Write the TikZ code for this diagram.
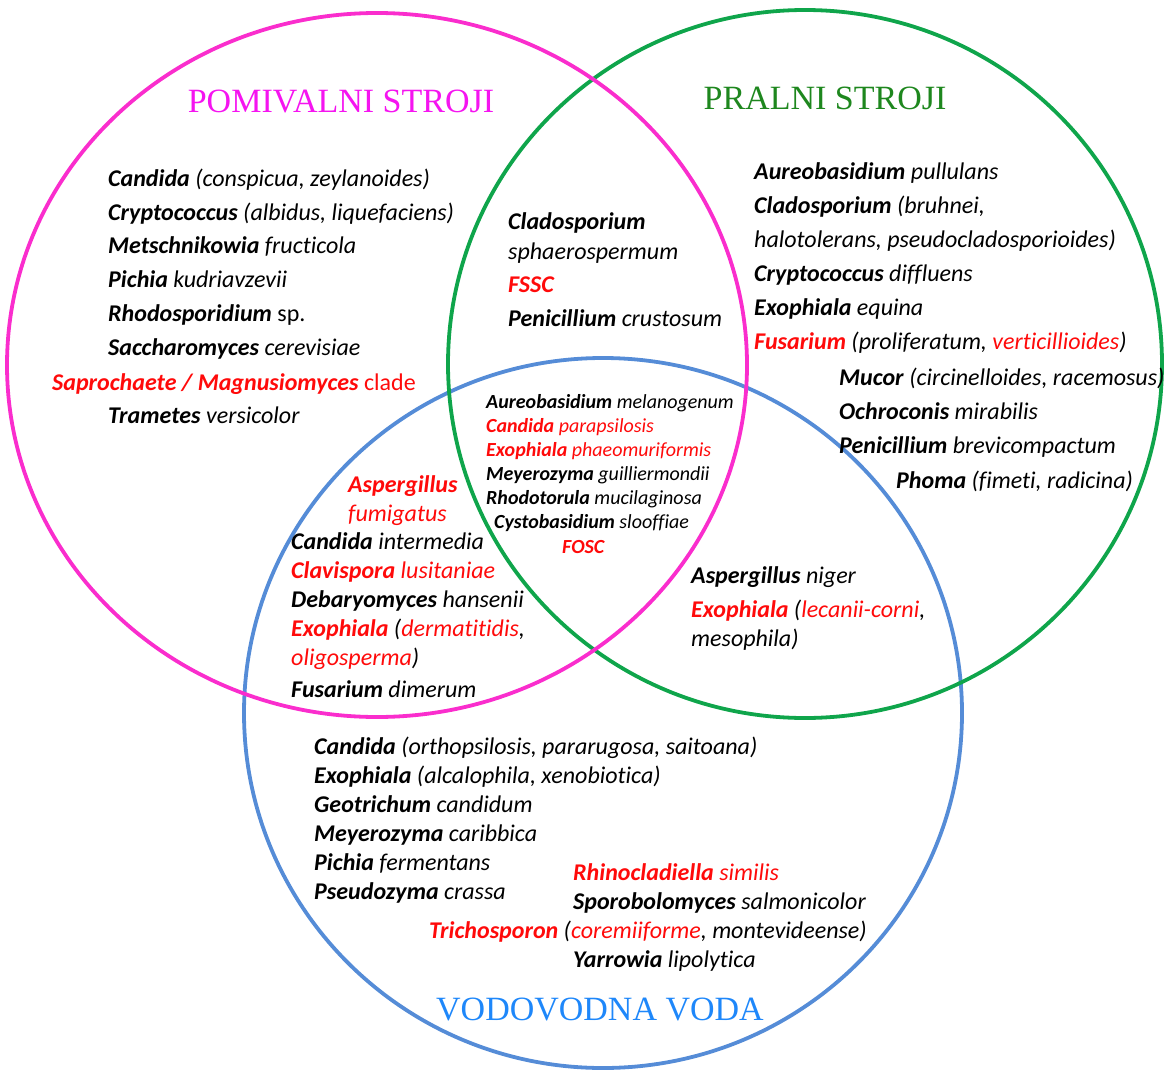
\documentclass[tikz,border=0pt]{standalone}
\usepackage{fontspec}
\setmainfont{Carlito}[Ligatures=NoCommon]
\newfontfamily\titlefont{Liberation Serif}
\usetikzlibrary{positioning}
\definecolor{pomcol}{RGB}{250,45,205}
\definecolor{pomttl}{RGB}{245,20,240}
\definecolor{pralcol}{RGB}{15,165,75}
\definecolor{pralttl}{RGB}{30,135,30}
\definecolor{vodcol}{RGB}{85,140,215}
\definecolor{vodttl}{RGB}{30,135,250}
\definecolor{redsp}{RGB}{255,10,10}
\newcommand{\gen}[1]{\textbf{\textit{#1}}}
\newcommand{\spc}[1]{\textit{#1}}
\newcommand{\rgen}[1]{{\color{redsp}\textbf{\textit{#1}}}}
\newcommand{\rspc}[1]{{\color{redsp}\textit{#1}}}
\tikzset{
  ring/.style={line width=3.8pt},
  lbl/.style={anchor=base west, inner sep=0pt, font=\fontsize{24}{28}\selectfont},
  lblsm/.style={anchor=base west, inner sep=0pt, font=\fontsize{20}{24}\selectfont},
  ttl/.style={anchor=base, inner sep=0pt, font=\titlefont\fontsize{34}{40}\selectfont}
}

\begin{document}
\begin{tikzpicture}[x=1pt,y=-1pt]
\useasboundingbox (0,0) rectangle (1164,1070);
\draw[ring, vodcol] (603,713) ellipse [x radius=359, y radius=355];
\draw[ring, pralcol] (805,364) ellipse [x radius=357, y radius=354];
\draw[ring, pomcol] (377,365) ellipse [x radius=370, y radius=352];

% titles
\node[ttl, pomttl] (pom) at (341,113) {POMIVALNI STROJI};
\node[ttl, pralttl] (pral) at (825,110) {PRALNI STROJI};
\node[ttl, vodttl] (vod) at (600,1020) {VODOVODNA VODA};

% pomivalni stroji
\node[lbl] (p1) at (108,186) {\gen{Candida} \spc{(conspicua, zeylanoides)}};
\node[lbl] (p2) at (108,220) {\gen{Cryptococcus} \spc{(albidus, liquefaciens)}};
\node[lbl] (p3) at (108,253) {\gen{Metschnikowia} \spc{fructicola}};
\node[lbl] (p4) at (108,287) {\gen{Pichia} \spc{kudriavzevii}};
\node[lbl] (p5) at (108,321) {\gen{Rhodosporidium} sp.};
\node[lbl] (p6) at (108,355) {\gen{Saccharomyces} \spc{cerevisiae}};
\node[lbl] (p7) at (52,390) {\rgen{Saprochaete / Magnusiomyces} {\color{redsp}clade}};
\node[lbl] (p8) at (108,423) {\gen{Trametes} \spc{versicolor}};

% pralni stroji
\node[lbl] (s1) at (754,179) {\gen{Aureobasidium} \spc{pullulans}};
\node[lbl] (s2) at (754,213) {\gen{Cladosporium} \spc{(bruhnei,}};
\node[lbl] (s3) at (754,247) {\spc{halotolerans, pseudocladosporioides)}};
\node[lbl] (s4) at (754,281) {\gen{Cryptococcus} \spc{diffluens}};
\node[lbl] (s5) at (754,315) {\gen{Exophiala} \spc{equina}};
\node[lbl] (s6) at (754,349) {\rgen{Fusarium} \spc{(proliferatum, \rspc{verticillioides})}};
\node[lbl] (s7) at (839,385) {\gen{Mucor} \spc{(circinelloides, racemosus)}};
\node[lbl] (s8) at (839,419) {\gen{Ochroconis} \spc{mirabilis}};
\node[lbl] (s9) at (839,453) {\gen{Penicillium} \spc{brevicompactum}};
\node[lbl] (s10) at (896,488) {\gen{Phoma} \spc{(fimeti, radicina)}};

% pomivalni + pralni
\node[lbl] (ps1) at (508,229) {\gen{Cladosporium}};
\node[lbl] (ps2) at (508,259) {\spc{sphaerospermum}};
\node[lbl] (ps3) at (508,292) {\rgen{FSSC}};
\node[lbl] (ps4) at (508,326) {\gen{Penicillium} \spc{crustosum}};

% vse tri
\node[lblsm] (c1) at (486,408) {\gen{Aureobasidium} \spc{melanogenum}};
\node[lblsm] (c2) at (486,432) {\rgen{Candida} \rspc{parapsilosis}};
\node[lblsm] (c3) at (486,456) {\rgen{Exophiala} \rspc{phaeomuriformis}};
\node[lblsm] (c4) at (486,480) {\gen{Meyerozyma} \spc{guilliermondii}};
\node[lblsm] (c5) at (486,504) {\gen{Rhodotorula} \spc{mucilaginosa}};
\node[lblsm] (c6) at (494,528) {\gen{Cystobasidium} \spc{slooffiae}};
\node[lblsm] (c7) at (562,553) {\rgen{FOSC}};

% pomivalni + vodovodna
\node[lbl] (pv1) at (348,492) {\rgen{Aspergillus}};
\node[lbl] (pv2) at (348,521) {\rspc{fumigatus}};
\node[lbl] (pv3) at (291,549) {\gen{Candida} \spc{intermedia}};
\node[lbl] (pv4) at (291,578) {\rgen{Clavispora} \rspc{lusitaniae}};
\node[lbl] (pv5) at (291,607) {\gen{Debaryomyces} \spc{hansenii}};
\node[lbl] (pv6) at (291,636) {\rgen{Exophiala} \spc{(\rspc{dermatitidis},}};
\node[lbl] (pv7) at (291,665) {\rspc{oligosperma}\spc{)}};
\node[lbl] (pv8) at (291,697) {\gen{Fusarium} \spc{dimerum}};

% pralni + vodovodna
\node[lbl] (sv1) at (691,583) {\gen{Aspergillus} \spc{niger}};
\node[lbl] (sv2) at (691,617) {\rgen{Exophiala} \spc{(\rspc{lecanii-corni},}};
\node[lbl] (sv3) at (691,646) {\spc{mesophila)}};

% vodovodna voda
\node[lbl] (v1) at (314,754) {\gen{Candida} \spc{(orthopsilosis, pararugosa, saitoana)}};
\node[lbl] (v2) at (314,783) {\gen{Exophiala} \spc{(alcalophila, xenobiotica)}};
\node[lbl] (v3) at (314,812) {\gen{Geotrichum} \spc{candidum}};
\node[lbl] (v4) at (314,841) {\gen{Meyerozyma} \spc{caribbica}};
\node[lbl] (v5) at (314,870) {\gen{Pichia} \spc{fermentans}};
\node[lbl] (v6) at (314,899) {\gen{Pseudozyma} \spc{crassa}};
\node[lbl] (v7) at (573,880) {\rgen{Rhinocladiella} \rspc{similis}};
\node[lbl] (v8) at (573,909) {\gen{Sporobolomyces} \spc{salmonicolor}};
\node[lbl] (v9) at (429,938) {\rgen{Trichosporon} \spc{(\rspc{coremiiforme}, montevideense)}};
\node[lbl] (v10) at (573,967) {\gen{Yarrowia} \spc{lipolytica}};
\end{tikzpicture}
\end{document}
